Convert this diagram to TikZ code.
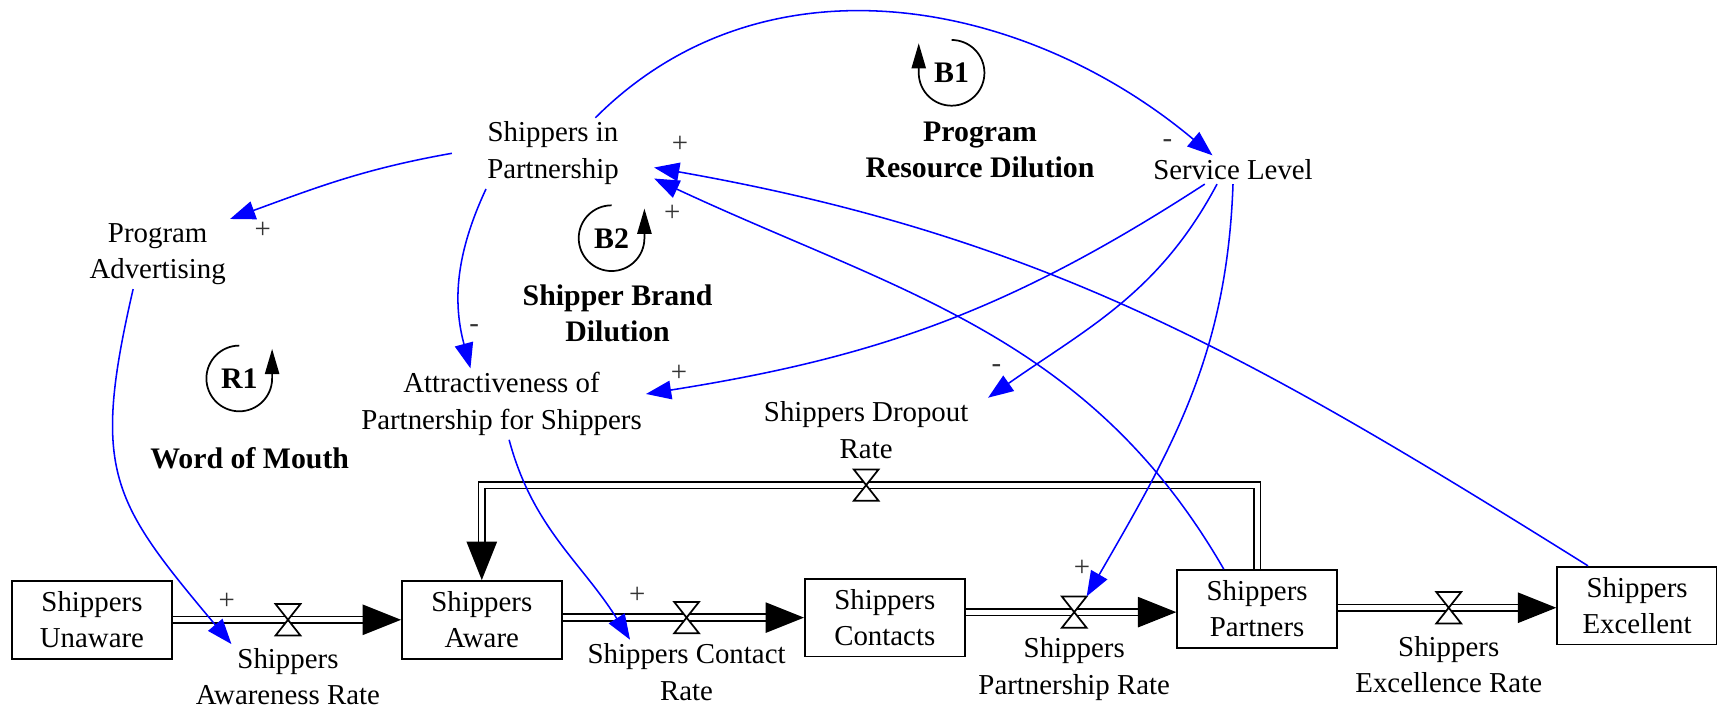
\documentclass[tikz,border=0pt]{standalone}
\usepackage{fontspec}
\setmainfont{Liberation Serif}
\usetikzlibrary{arrows.meta}

\begin{document}
\begin{tikzpicture}[
    x = 0.02cm, y = 0.02cm, % one unit = one pixel of the sketch
    font = \fontsize{15}{19}\selectfont,
    stock/.style = {draw, line width=0.9pt, align=center,
        minimum width=2.92cm, minimum height=1.42cm},
    aux/.style = {align=center, inner sep=2pt},
    looptag/.style = {font=\fontsize{15.5}{19}\selectfont\bfseries, align=center},
    pipe/.style = {draw, double, double distance=2.6pt, line width=0.9pt},
    valve/.style = {inner sep=0pt, minimum width=0.44cm, minimum height=0.56cm},
    bowtie/.style = {draw, fill=white, line width=0.9pt},
    link/.style = {blue, line width=0.8pt, -{Triangle[length=0.46cm, width=0.34cm]}},
    loopline/.style = {line width=0.9pt, -{Triangle[length=0.46cm, width=0.26cm]}},
    sign/.style = {text=black!80, inner sep=1pt},
    flowtip/.pic = {\fill (0,0) -- (-35,14) -- (-35,-14) -- cycle;}
    ]
    \useasboundingbox (0,0) rectangle (1568,-647);

    % stocks
    \node[stock] (su) at (84,-566) {Shippers\\Unaware};
    \node[stock] (sa) at (440,-566) {Shippers\\Aware};
    \node[stock] (sc) at (808,-564) {Shippers\\Contacts};
    \node[stock] (sp) at (1148,-556) {Shippers\\Partners};
    \node[stock] (se) at (1495,-553) {Shippers\\Excellent};

    % valves and rates
    \node[valve] (v1) at (263,-566) {};
    \node[valve] (v2) at (627,-564) {};
    \node[valve] (v3) at (981,-559) {};
    \node[valve] (v4) at (1323,-555) {};
    \node[valve] (v5) at (791,-443) {};
    \node[aux] (ra) at (263,-618) {Shippers\\Awareness Rate};
    \node[aux] (rc) at (627,-614) {Shippers Contact\\Rate};
    \node[aux] (rp) at (981,-611) {Shippers\\Partnership Rate};
    \node[aux] (re) at (1323,-607) {Shippers\\Excellence Rate};
    \node[aux, inner xsep=13pt] (rd) at (791,-393) {Shippers Dropout\\Rate};

    % auxiliaries
    \node[aux, minimum width=3.68cm] (sip) at (505,-140) {Shippers in\\Partnership};
    \node[aux] (pa) at (144,-232) {Program\\Advertising};
    \node[aux] (ap) at (458,-369) {Attractiveness of\\Partnership for Shippers};
    \node[aux] (sl) at (1126,-155) {Service Level};

    % flows
    \draw[pipe, shorten >=0.64cm] (su.east |- v1) -- (sa.west |- v1);
    \draw[pipe, shorten >=0.64cm] (sa.east |- v2) -- (sc.west |- v2);
    \draw[pipe, shorten >=0.64cm] (sc.east |- v3) -- (sp.west |- v3);
    \draw[pipe, shorten >=0.64cm] (sp.east |- v4) -- (se.west |- v4);
    \draw[pipe, shorten >=0.64cm] (sp.north) |- (v5.center) -| (sa.north);
    \pic at (sa.west |- v1) {flowtip};
    \pic at (sc.west |- v2) {flowtip};
    \pic at (sp.west |- v3) {flowtip};
    \pic at (se.west |- v4) {flowtip};
    \pic[rotate=-90] at (sa.north) {flowtip};
    \foreach \v in {v1,v2,v3,v4,v5}
        \draw[bowtie] (\v.north west) -- (\v.north east)
            -- (\v.south west) -- (\v.south east) -- cycle;

    % causal links
    \draw[link] (sip.40) to[out=45, in=140] (sl.145);
    \draw[link] (sip.west) to[out=190, in=20] (pa.north east);
    \draw[link] (sip.208) to[out=245, in=105] (ap.131);
    \draw[link] (pa.235) to[out=257, in=130, looseness=1.3] (ra.150);
    \draw[link] (ap.282) to[out=285, in=122] (rc.150);
    \draw[link] (sl.207) to[out=213, in=9] (ap.4);
    \draw[link] (sl.222) to[out=242, in=35] (rd.15);
    \draw[link] (sl.south) to[out=268, in=60] (v3.north east);
    \draw[link] (sp.130) to[out=120, in=-25] (sip.-14);
    \draw[link] (se.141) to[out=148, in=-10] (sip.-8);

    % polarities
    \node[sign] (s1) at (621,-132) {+};
    \node[sign] (s2) at (614,-195) {+};
    \node[sign] (s3) at (240,-210) {+};
    \node[sign] (s4) at (433,-300) {-};
    \node[sign] (s5) at (620,-341) {+};
    \node[sign] (s6) at (910,-337) {-};
    \node[sign] (s7) at (1066,-131) {-};
    \node[sign] (s8) at (207,-549) {+};
    \node[sign] (s9) at (582,-544) {+};
    \node[sign] (s10) at (988,-519) {+};

    % loops
    \node[looptag] (b1) at (869,-66.5) {B1};
    \node[looptag] (b2) at (558.5,-217.5) {B2};
    \node[looptag] (r1) at (218.5,-345.6) {R1};
    \draw[loopline] (b1.center) ++(90:30) arc[start angle=90, end angle=-180, radius=30] -- ++(0,27);
    \draw[loopline] (b2.center) ++(90:30) arc[start angle=90, end angle=360, radius=30] -- ++(0,27);
    \draw[loopline] (r1.center) ++(90:30) arc[start angle=90, end angle=360, radius=30] -- ++(0,27);
    \node[looptag] (b1t) at (895,-137) {Program\\Resource Dilution};
    \node[looptag] (b2t) at (564,-286) {Shipper Brand\\Dilution};
    \node[looptag] (r1t) at (228,-418) {Word of Mouth};
\end{tikzpicture}
\end{document}
